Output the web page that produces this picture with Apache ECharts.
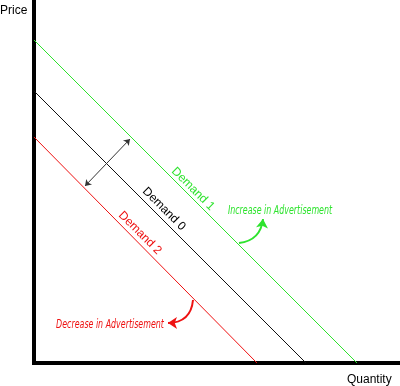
<!DOCTYPE html>
<html><head><meta charset="utf-8">
<script src="https://cdn.jsdelivr.net/npm/echarts@6/dist/echarts.min.js"></script>
<style>html,body{margin:0;padding:0;background:#fff}#c{width:400px;height:386px}</style>
</head><body><div id="c"></div>
<script>
// Demand curves: [quantity, price] end points (arbitrary units)
const demand0 = [[0, 272], [272, 0]];
const demand1 = [[0, 323], [323, 0]];
const demand2 = [[0, 226], [223, 0]];
const seriesNames = ['Demand 0', 'Demand 1', 'Demand 2'];
const axisNames = ['Quantity', 'Price'];
const shiftArrow = [[96, 224], [51, 177]];
const increaseArrow = [[205, 120], [229, 144]];
const decreaseArrow = [[159, 63], [134, 40]];
const notes = ['Increase in Advertisement', 'Decrease in Advertisement'];
// label anchor points (data units)
const labelPos = { d0: [130, 154], d1: [159, 174], d2: [106, 130], inc: [246, 152], dec: [76, 38] };

const GREEN = '#2ee32e', RED = '#ee1111', BLACK = '#111';
const chart = echarts.init(document.getElementById('c'));
const axisCommon = { type: 'value', splitLine: { show: false }, axisTick: { show: false }, axisLabel: { show: false },
  axisLine: { show: true, onZero: false, lineStyle: { color: '#000', width: 4, cap: 'square' } } };
chart.setOption({
  animation: false,
  grid: { left: 34, right: 0, top: 0, bottom: 23 },
  xAxis: Object.assign({ min: 0, max: 366 }, axisCommon),
  yAxis: Object.assign({ min: 0, max: 363 }, axisCommon),
  series: [
    { name: seriesNames[0], type: 'line', data: demand0, symbol: 'none', lineStyle: { color: BLACK, width: 1 },
      markLine: { silent: true, symbol: ['arrow', 'arrow'], symbolSize: 6, label: { show: false },
        lineStyle: { color: '#333', width: 1, type: 'solid' },
        data: [[{ coord: shiftArrow[0] }, { coord: shiftArrow[1] }]] } },
    { name: seriesNames[1], type: 'line', data: demand1, symbol: 'none', lineStyle: { color: GREEN, width: 1 } },
    { name: seriesNames[2], type: 'line', data: demand2, symbol: 'none', lineStyle: { color: RED, width: 1 } },
    { type: 'lines', coordinateSystem: 'cartesian2d', silent: true, symbol: ['none', 'arrow'], symbolSize: 9,
      lineStyle: { color: GREEN, width: 2, curveness: -0.4, opacity: 1 },
      data: [{ coords: increaseArrow }] },
    { type: 'lines', coordinateSystem: 'cartesian2d', silent: true, symbol: ['none', 'arrow'], symbolSize: 9,
      lineStyle: { color: RED, width: 2, curveness: 0.45, opacity: 1 },
      data: [{ coords: decreaseArrow }] }
  ]
});
const px = p => chart.convertToPixel({ gridIndex: 0 }, p);
const rot = -Math.PI / 4;
function demandText(name, pos, color) {
  const p = px(pos);
  return { type: 'text', x: p[0], y: p[1], rotation: rot,
    style: { text: name, fill: color, font: '12px "Liberation Sans", Arial, sans-serif', align: 'center', verticalAlign: 'middle' } };
}
function noteText(t, pos, color) {
  const p = px(pos);
  return { type: 'text', x: p[0], y: p[1], scaleX: 0.66,
    style: { text: t, fill: color, font: 'italic 12px "DejaVu Sans", sans-serif', align: 'center', verticalAlign: 'middle' } };
}
chart.setOption({
  graphic: [
    { type: 'text', x: 0, y: 11, style: { text: axisNames[1], fill: '#000', font: '12px "Liberation Sans", Arial, sans-serif', verticalAlign: 'middle' } },
    { type: 'text', x: 347, y: 380, style: { text: axisNames[0], fill: '#000', font: '12px "Liberation Sans", Arial, sans-serif', verticalAlign: 'middle' } },
    demandText(seriesNames[0], labelPos.d0, '#000'),
    demandText(seriesNames[1], labelPos.d1, GREEN),
    demandText(seriesNames[2], labelPos.d2, RED),
    noteText(notes[0], labelPos.inc, GREEN),
    noteText(notes[1], labelPos.dec, RED)
  ]
});
</script></body></html>
